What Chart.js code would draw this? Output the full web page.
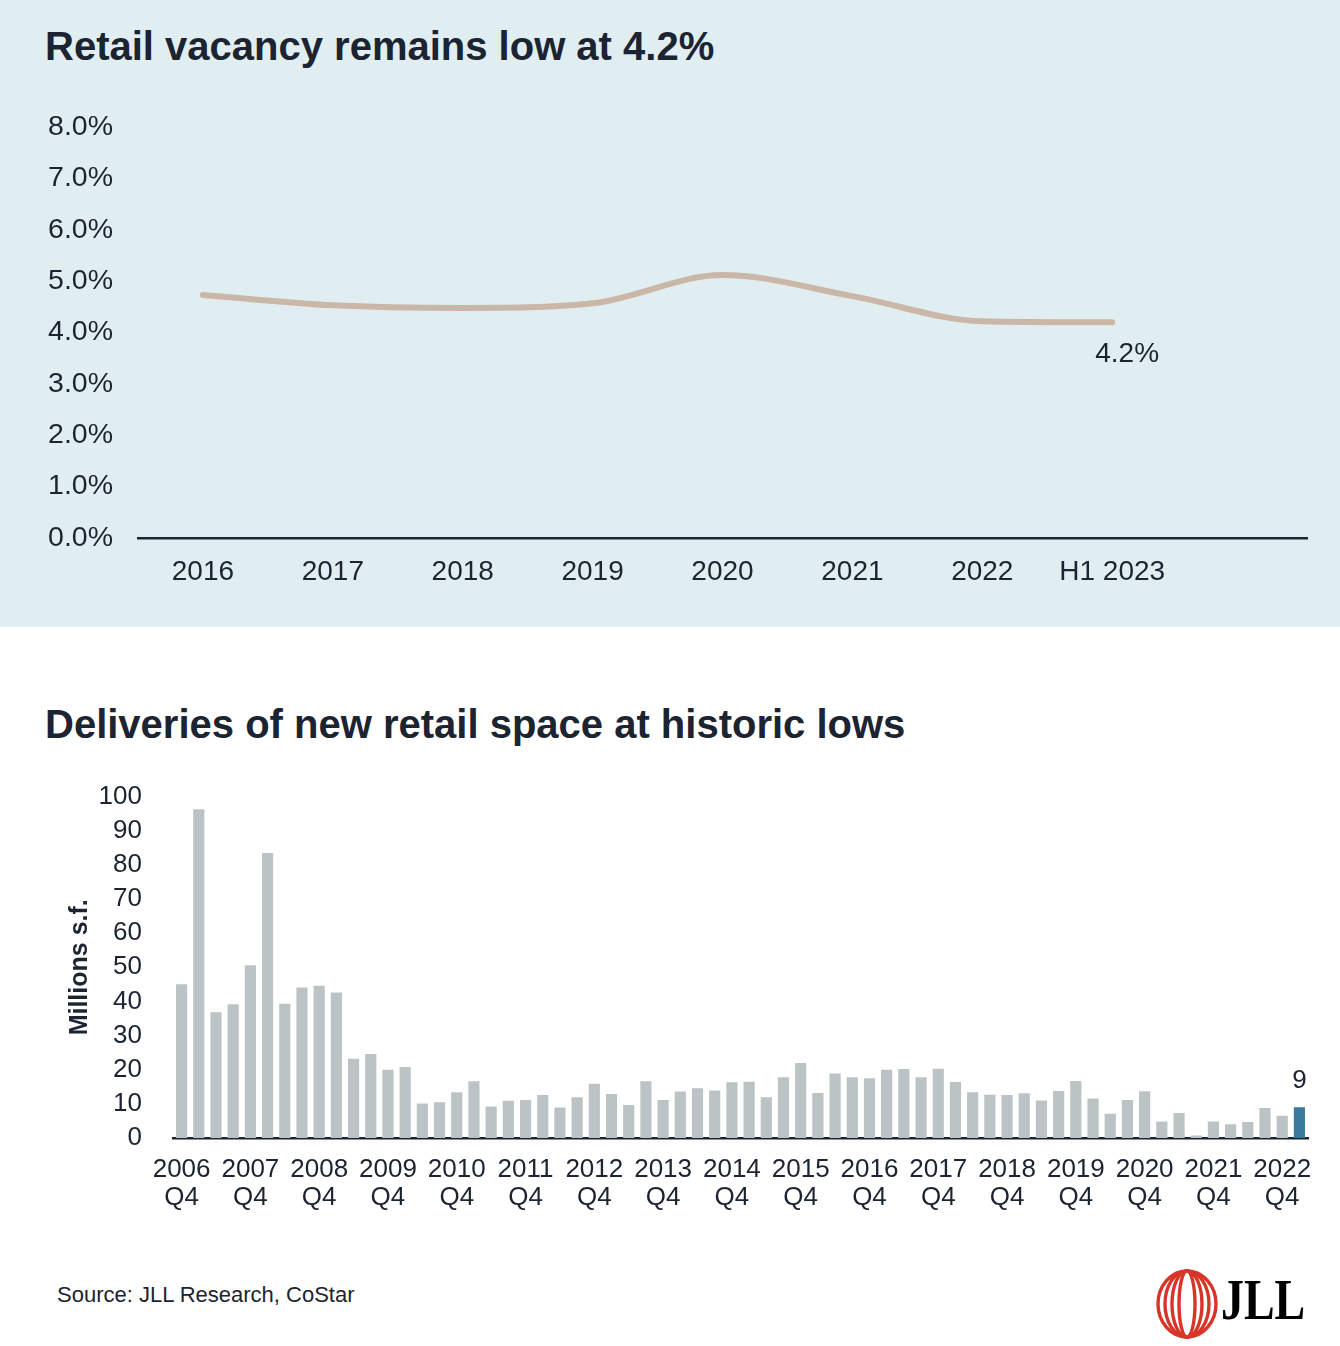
<!DOCTYPE html>
<html>
<head>
<meta charset="utf-8">
<script src="https://cdn.jsdelivr.net/npm/chart.js@4"></script>
<style>
  body { margin: 0; width: 1340px; height: 1346px; background: #fff; position: relative; overflow: hidden;
         font-family: "Liberation Sans", Arial, sans-serif; color: #1b2430; }
  #panel { position: absolute; left: 0; top: 0; width: 1340px; height: 627px; background: #e0eef1; }
  .title { position: absolute; left: 45px; font-weight: bold; font-size: 40px; line-height: 1; white-space: nowrap; }
  canvas { position: absolute; left: 0; }
  #source { position: absolute; left: 57px; top: 1284px; font-size: 22px; line-height: 1; }
  #logo { position: absolute; left: 1152px; top: 1268px; }
  #jll { position: absolute; left: 1221px; top: 1272px; font-family: "Liberation Serif", serif; font-weight: bold;
         font-size: 56px; line-height: 1; color: #000; transform: scaleX(0.82); transform-origin: left top; }
</style>
</head>
<body>
<div id="panel"></div>
<div class="title" style="top:26px">Retail vacancy remains low at 4.2%</div>
<canvas id="vacancy" width="1340" height="535" style="top:85px"></canvas>
<div class="title" style="top:704px">Deliveries of new retail space at historic lows</div>
<canvas id="deliveries" width="1340" height="480" style="top:750px"></canvas>
<div id="source">Source: JLL Research, CoStar</div>
<svg id="logo" width="70" height="72" viewBox="0 0 70 72">
  <g fill="none" stroke="#d8352a" stroke-width="3.4">
    <ellipse cx="35" cy="36" rx="29" ry="33"/>
    <ellipse cx="35" cy="36" rx="22" ry="33"/>
    <ellipse cx="35" cy="36" rx="15" ry="33"/>
    <ellipse cx="35" cy="36" rx="8" ry="33"/>
  </g>
</svg>
<div id="jll">JLL</div>
<script>
// Вакантность
const years = ['2016', '2017', '2018', '2019', '2020', '2021', '2022', 'H1 2023', ''];
const vacancy = [4.73, 4.53, 4.48, 4.57, 5.12, 4.71, 4.22, 4.2];
const vacancyTicks = [0, 1, 2, 3, 4, 5, 6, 7, 8];

// Ввод новых площадей, млн кв. футов (2006 Q4 ... 2023 Q1)
const firstYear = 2006;
const deliveries = [
  45, 96.3, 36.8, 39.2, 50.6, 83.5, 39.3, 44.1, 44.6, 42.6, 23.2, 24.6, 20.0, 20.8, 10.1, 10.5, 13.4, 16.6,
  9.2, 10.9, 11.1, 12.6, 8.9, 11.9, 15.9, 12.9, 9.7, 16.6, 11.1, 13.6, 14.6, 13.9, 16.3, 16.5, 11.9, 17.8,
  22.0, 13.2, 18.9, 17.8, 17.5, 20.0, 20.2, 17.8, 20.3, 16.4, 13.4, 12.7, 12.6, 13.1, 11.0, 13.8, 16.7, 11.6,
  7.1, 11.1, 13.7, 4.8, 7.3, 0.7, 4.8, 4.0, 4.7, 8.8, 6.5, 9.0
];
const deliveryTicks = [0, 10, 20, 30, 40, 50, 60, 70, 80, 90, 100];

const quarters = [];
for (let i = 0; i < deliveries.length; i++) {
  const q = (3 + i) % 4 + 1;
  const y = firstYear + Math.floor((3 + i) / 4);
  quarters.push(y + ' Q' + q);
}
const highlight = deliveries.length - 1;

const ink = '#1b2430';
const font = 'Liberation Sans, Arial, sans-serif';
Chart.defaults.font.family = font;
Chart.defaults.color = ink;

//Подпись последнего значения
const lastLabel = {
  id: 'lastLabel',
  afterDatasetsDraw(chart, args, opts) {
    const meta = chart.getDatasetMeta(0);
    const ds = chart.data.datasets[0].data;
    const el = meta.data[ds.length - 1];
    const ctx = chart.ctx;
    ctx.save();
    ctx.font = opts.size + 'px ' + font;
    ctx.fillStyle = ink;
    ctx.textAlign = 'center';
    ctx.textBaseline = 'middle';
    ctx.fillText(opts.format(ds[ds.length - 1]), el.x + opts.dx, el.y + opts.dy);
    ctx.restore();
  }
};

new Chart(document.getElementById('vacancy'), {
  type: 'line',
  data: {
    labels: years,
    datasets: [{
      data: vacancy,
      borderColor: '#cbb7a8',
      borderWidth: 6,
      borderCapStyle: 'round',
      cubicInterpolationMode: 'monotone',
      pointRadius: 0,
      fill: false
    }]
  },
  options: {
    responsive: false,
    animation: false,
    layout: { padding: { top: 9, right: 33, bottom: 0, left: 0 } },
    plugins: {
      legend: { display: false },
      tooltip: { enabled: false },
      lastLabel: { size: 28, dx: 15, dy: 32, format: v => v.toFixed(1) + '%' }
    },
    scales: {
      x: {
        offset: true,
        grid: { display: false, drawTicks: false },
        border: { display: true, color: ink, width: 2.5 },
        ticks: { font: { size: 28 }, padding: 17, maxRotation: 0, autoSkip: false },
        afterFit: s => { s.height = 82; }
      },
      y: {
        min: 0,
        max: 8,
        afterBuildTicks: s => { s.ticks = vacancyTicks.map(v => ({ value: v })); },
        grid: { display: false, drawTicks: false },
        border: { display: false },
        ticks: { font: { size: 28.5 }, padding: 25, autoSkip: false, callback: v => v.toFixed(1) + '%' },
        afterFit: s => { s.width = 138; }
      }
    }
  },
  plugins: [lastLabel]
});

new Chart(document.getElementById('deliveries'), {
  type: 'bar',
  data: {
    labels: quarters,
    datasets: [{
      data: deliveries,
      backgroundColor: deliveries.map((v, i) => i === highlight ? '#3a7a9f' : '#bbc3c4'),
      categoryPercentage: 1,
      barPercentage: 0.65
    }]
  },
  options: {
    responsive: false,
    animation: false,
    layout: { padding: { top: 10, right: 32, bottom: 0, left: 0 } },
    plugins: {
      legend: { display: false },
      tooltip: { enabled: false },
      lastLabel: { size: 26, dx: 0, dy: -26, format: v => String(Math.round(v)) }
    },
    scales: {
      x: {
        grid: { display: false, drawTicks: false },
        border: { display: true, color: ink, width: 2.5 },
        ticks: {
          font: { size: 26, lineHeight: 1.08 },
          padding: 18,
          maxRotation: 0,
          autoSkip: false,
          callback: function (v, i) {
            return i % 4 === 0 ? this.getLabelForValue(v).split(' ') : '';
          }
        },
        afterFit: s => { s.height = 92; }
      },
      y: {
        min: 0,
        max: 100,
        afterBuildTicks: s => { s.ticks = deliveryTicks.map(v => ({ value: v })); },
        grid: { display: false, drawTicks: false },
        border: { display: false },
        ticks: { font: { size: 26 }, padding: 31, autoSkip: false },
        title: { display: true, text: 'Millions s.f.', font: { size: 25, weight: 'bold' }, padding: { top: 65, bottom: 0 } },
        afterFit: s => { s.width = 173; }
      }
    }
  },
  plugins: [lastLabel]
});
</script>
</body>
</html>
